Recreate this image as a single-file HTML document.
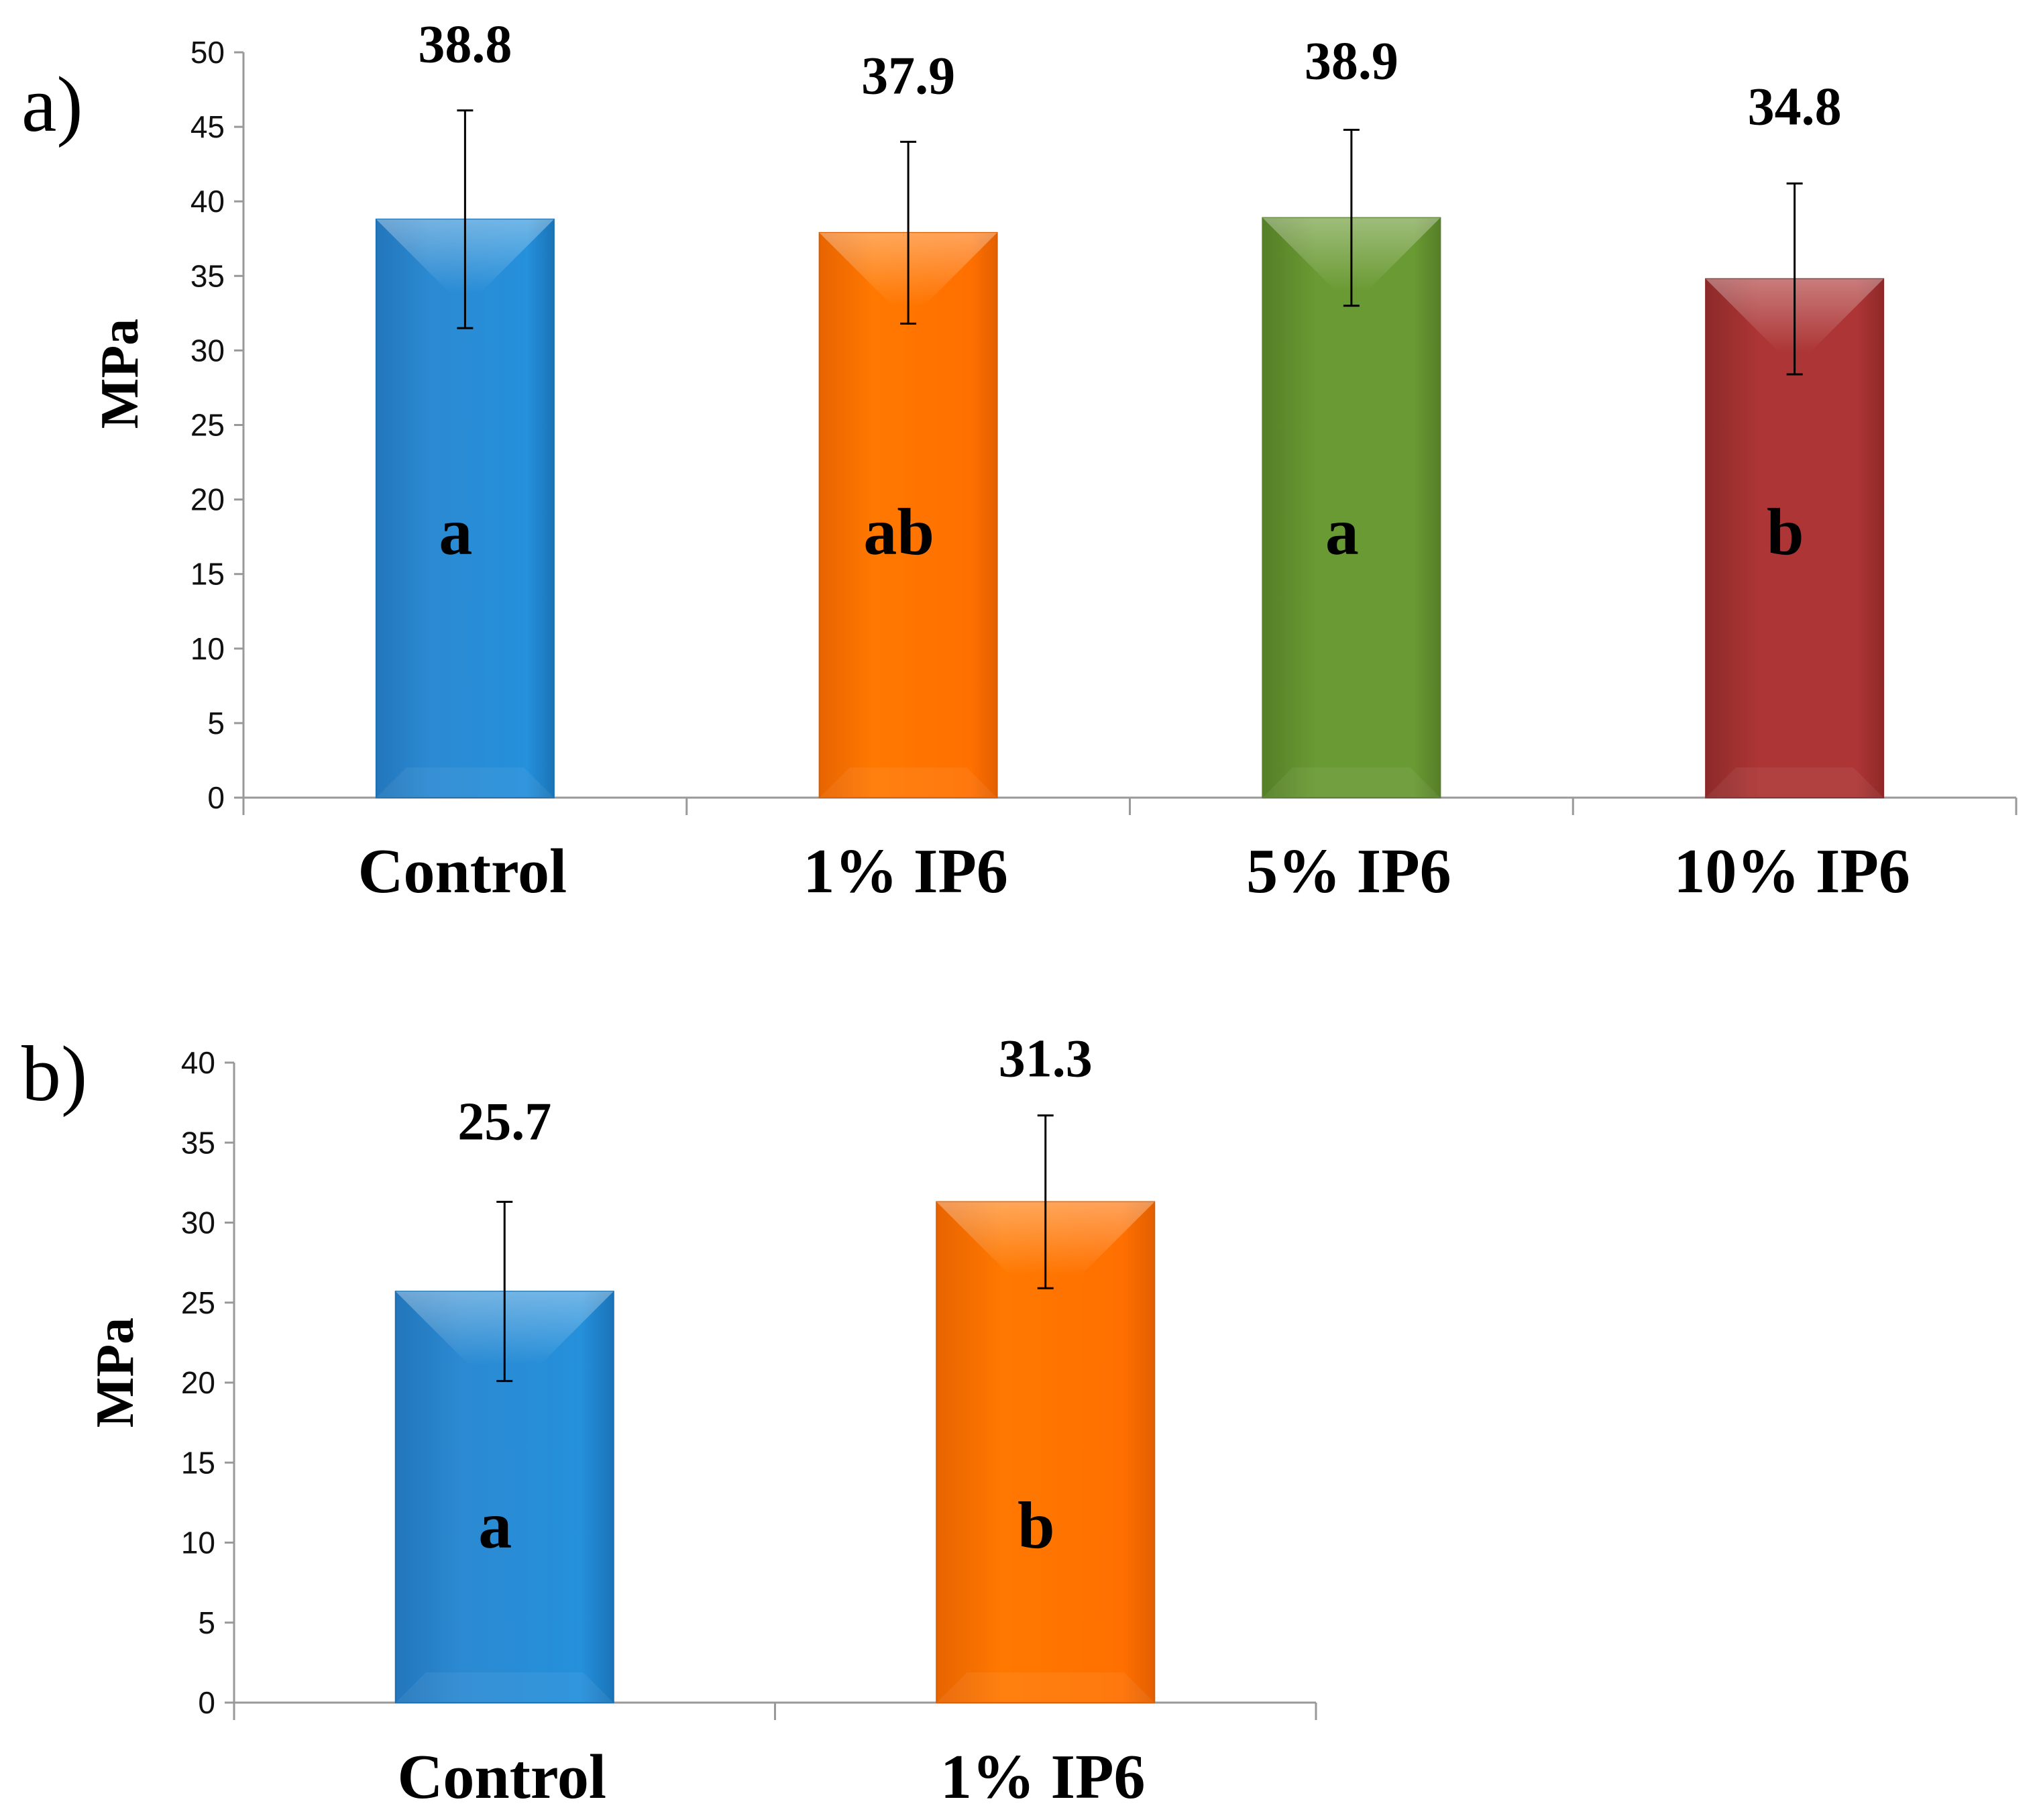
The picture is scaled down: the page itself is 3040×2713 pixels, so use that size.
<!DOCTYPE html>
<html><head><meta charset="utf-8"><style>
html,body{margin:0;padding:0;background:#fff;}
svg{display:block;}
.tick{font-family:"Liberation Sans",sans-serif;font-size:46px;fill:#111;}
.tickb{font-family:"Liberation Sans Narrow","Liberation Sans",sans-serif;font-size:46px;fill:#111;}
.tm{font-family:"Liberation Serif",serif;font-weight:bold;fill:#000;}
</style></head>
<body>
<svg id="chart" width="3040" height="2713" viewBox="0 0 3040 2713" xmlns="http://www.w3.org/2000/svg">
<defs>
<linearGradient id="g-blue" x1="0" x2="1"><stop offset="0" stop-color="#2376bb"/><stop offset="0.3" stop-color="#2b8ad2"/><stop offset="0.85" stop-color="#2590db"/><stop offset="1" stop-color="#1a74b8"/></linearGradient>
<linearGradient id="g-orange" x1="0" x2="1"><stop offset="0" stop-color="#e86400"/><stop offset="0.3" stop-color="#ff7800"/><stop offset="0.85" stop-color="#ff7000"/><stop offset="1" stop-color="#e35f00"/></linearGradient>
<linearGradient id="g-green" x1="0" x2="1"><stop offset="0" stop-color="#557f27"/><stop offset="0.3" stop-color="#6a9a33"/><stop offset="0.85" stop-color="#6a9a33"/><stop offset="1" stop-color="#567f28"/></linearGradient>
<linearGradient id="g-red" x1="0" x2="1"><stop offset="0" stop-color="#8e2a2a"/><stop offset="0.3" stop-color="#ad3535"/><stop offset="0.85" stop-color="#ad3535"/><stop offset="1" stop-color="#8f2929"/></linearGradient>
<linearGradient id="g-bev" x1="0" y1="0" x2="0" y2="1"><stop offset="0" stop-color="#fff" stop-opacity="0.35"/><stop offset="1" stop-color="#fff" stop-opacity="0"/></linearGradient>
</defs>
<g id="panelA"></g>
<g id="panelB"></g>
</svg>
<script>
// Panel a data
const catsA = ["Control", "1% IP6", "5% IP6", "10% IP6"];
const valsA = [38.8, 37.9, 38.9, 34.8];
const errA = [7.3, 6.1, 5.9, 6.4];
const lettersA = ["a", "ab", "a", "b"];
const ticksA = [0, 5, 10, 15, 20, 25, 30, 35, 40, 45, 50];
// Panel b data
const catsB = ["Control", "1% IP6"];
const valsB = [25.7, 31.3];
const errB = [5.6, 5.4];
const lettersB = ["a", "b"];
const ticksB = [0, 5, 10, 15, 20, 25, 30, 35, 40];

const NS = "http://www.w3.org/2000/svg";
function mk(parent, tag, attrs, text) {
  const e = document.createElementNS(NS, tag);
  for (const k in attrs) e.setAttribute(k, attrs[k]);
  if (text !== undefined) e.textContent = text;
  parent.appendChild(e);
  return e;
}

function drawPanel(g, cfg) {
  const y = v => cfg.y0 - v * (cfg.y0 - cfg.yTop) / cfg.max;
  const bandW = (cfg.xEnd - cfg.x0) / cfg.cats.length;
  const x = i => cfg.x0 + bandW * (i + 0.5);
  const ya = mk(g, "line", {x1: cfg.x0, y1: y(cfg.max), x2: cfg.x0, y2: cfg.y0 + 26, stroke: "#999", "stroke-width": 3});
  
  
  const xa = mk(g, "line", {x1: cfg.x0 - 14, y1: cfg.y0, x2: cfg.xEnd, y2: cfg.y0, stroke: "#999", "stroke-width": 3});
  
  
  cfg.ticks.forEach(t => {
    const l = mk(g, "line", {x1: cfg.x0 - 14, y1: y(t), x2: cfg.x0, y2: y(t), stroke: "#999", "stroke-width": 3});
    
    
    const tx = mk(g, "text", {x: cfg.x0 - 28, y: y(t) + 16, "text-anchor": "end", class: cfg.tickClass}, String(t));
    
    
  });
  for (let i = 0; i <= cfg.cats.length; i++) {
    const xx = cfg.x0 + bandW * i;
    const l = mk(g, "line", {x1: xx, y1: cfg.y0, x2: xx, y2: cfg.y0 + 26, stroke: "#999", "stroke-width": 3});
    
    
  }
  cfg.cats.forEach((c, i) => {
    const cx = x(i), w = cfg.barW, top = y(cfg.vals[i]);
    const bar = mk(g, "rect", {x: cx - w / 2, y: top, width: w, height: cfg.y0 - top, fill: "url(#" + cfg.grads[i] + ")", stroke: cfg.edges[i], "stroke-width": 2});
    
    
    const bev = 110;
    const tb = mk(g, "polygon", {points: `${cx - w / 2},${top} ${cx + w / 2},${top} ${cx + w / 2 - bev},${top + bev} ${cx - w / 2 + bev},${top + bev}`, fill: "url(#g-bev)"});
    
    
    const bb = mk(g, "polygon", {points: `${cx - w / 2},${cfg.y0} ${cx + w / 2},${cfg.y0} ${cx + w / 2 - 45},${cfg.y0 - 45} ${cx - w / 2 + 45},${cfg.y0 - 45}`, fill: "#fff", opacity: 0.06});
    
    
    const eTop = y(cfg.vals[i] + cfg.errs[i]), eBot = y(cfg.vals[i] - cfg.errs[i]);
    const eg = mk(g, "g", {stroke: "#000", "stroke-width": 3});
    
    
    mk(eg, "line", {x1: cx, y1: eTop, x2: cx, y2: eBot});
    mk(eg, "line", {x1: cx - 12, y1: eTop, x2: cx + 12, y2: eTop});
    mk(eg, "line", {x1: cx - 12, y1: eBot, x2: cx + 12, y2: eBot});
    const vl = mk(g, "text", {x: cx, y: eTop - cfg.labelGap[i], "text-anchor": "middle", class: "tm", "font-size": 80}, cfg.vals[i].toFixed(1));
    
    
    const lt = mk(g, "text", {x: cx - 14, y: cfg.letterY, "text-anchor": "middle", class: "tm", "font-size": 100}, cfg.letters[i]);
    
    
    const cl = mk(g, "text", {x: cx - 4, y: cfg.catY, "text-anchor": "middle", class: "tm", "font-size": 94}, c);
    
    
  });
  const yt = mk(g, "text", {x: 0, y: 0, transform: `translate(${cfg.yTitleX},${cfg.yTitleY}) rotate(-90)`, "text-anchor": "middle", class: "tm", "font-size": 80}, "MPa");
  
  
  const pl = mk(g, "text", {x: 32, y: cfg.panelY, class: "tm", "font-size": 118, style: "font-weight:normal"}, cfg.panel);
  
  
}

drawPanel(document.getElementById("panelA"), {
  cats: catsA, vals: valsA, errs: errA, letters: lettersA, ticks: ticksA, max: 50,
  x0: 363, xEnd: 3006, y0: 1189, yTop: 78, barW: 265,
  grads: ["g-blue", "g-orange", "g-green", "g-red"],
  edges: ["#1b6fae", "#d95d00", "#567f28", "#8a2828"],
  labelGap: [72, 72, 76, 88], letterY: 826, catY: 1330,
  tickClass: "tick", yTitleX: 205, yTitleY: 557, panel: "a)", panelY: 195
});
drawPanel(document.getElementById("panelB"), {
  cats: catsB, vals: valsB, errs: errB, letters: lettersB, ticks: ticksB, max: 40,
  x0: 349, xEnd: 1962, y0: 2538, yTop: 1584, barW: 325,
  grads: ["g-blue", "g-orange"],
  edges: ["#1b6fae", "#d95d00"],
  labelGap: [93, 58], letterY: 2307, catY: 2680,
  tickClass: "tickb", yTitleX: 198, yTitleY: 2046, panel: "b)", panelY: 1640
});
</script>
</body></html>
